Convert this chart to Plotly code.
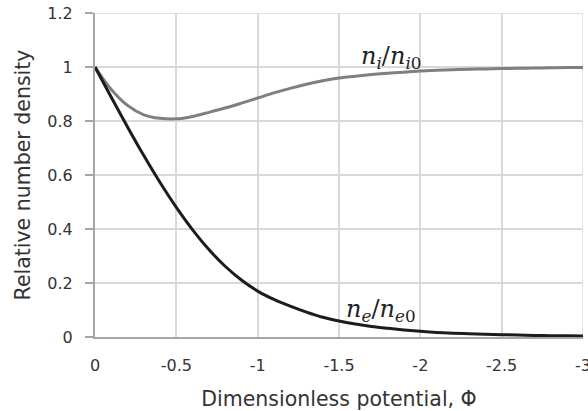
import plotly.graph_objects as go

# Dimensionless potential (x) and relative densities
phi = [0, -0.1, -0.2, -0.3, -0.4, -0.5, -0.6, -0.7, -0.8, -0.9, -1.0,
       -1.1, -1.2, -1.3, -1.4, -1.5, -1.6, -1.7, -1.8, -1.9, -2.0,
       -2.1, -2.2, -2.3, -2.4, -2.5, -2.6, -2.7, -2.8, -2.9, -3.0]
n_e = [1.0, 0.888, 0.778, 0.672, 0.572, 0.480, 0.397, 0.324, 0.262, 0.211, 0.170,
       0.139, 0.114, 0.092, 0.073, 0.059, 0.048, 0.039, 0.032, 0.026, 0.021,
       0.017, 0.014, 0.012, 0.010, 0.0085, 0.007, 0.006, 0.005, 0.0045, 0.004]
n_i = [1.0, 0.917, 0.858, 0.823, 0.810, 0.808, 0.817, 0.832, 0.848, 0.866, 0.885,
       0.904, 0.921, 0.936, 0.949, 0.959, 0.966, 0.972, 0.977, 0.981, 0.985,
       0.988, 0.990, 0.992, 0.993, 0.994, 0.995, 0.996, 0.997, 0.998, 0.998]

x_ticks = [0, -0.5, -1, -1.5, -2, -2.5, -3]
x_tick_text = ["0", "-0.5", "-1", "-1.5", "-2", "-2.5", "-3"]
y_ticks = [0, 0.2, 0.4, 0.6, 0.8, 1.0, 1.2]
y_tick_text = ["0", "0.2", "0.4", "0.6", "0.8", "1", "1.2"]

GRID = "#d9d9d9"

fig = go.Figure()
fig.add_trace(go.Scatter(x=phi, y=n_i, mode="lines",
                         line=dict(color="#7f7f7f", width=3, shape="spline", smoothing=1.0),
                         showlegend=False, hoverinfo="skip"))
fig.add_trace(go.Scatter(x=phi, y=n_e, mode="lines",
                         line=dict(color="#1c1c1c", width=3, shape="spline", smoothing=1.0),
                         showlegend=False, hoverinfo="skip"))

# gridlines at the far ends of the axes (plotly skips grid lines on the plot edges)
fig.add_shape(type="line", xref="paper", yref="y", x0=0, x1=1,
              y0=y_ticks[-1], y1=y_ticks[-1], line=dict(color=GRID, width=1.5), layer="below")
fig.add_shape(type="line", xref="x", yref="paper", x0=x_ticks[-1], x1=x_ticks[-1],
              y0=0, y1=1, line=dict(color=GRID, width=1.5), layer="below")

math_font = dict(family="DejaVu Serif", size=24, color="#222222")
fig.add_annotation(x=-1.82, y=1.035, xref="x", yref="y", showarrow=False,
                   text="<i>n</i><sub><i>i</i></sub>/<i>n</i><sub><i>i</i>0</sub>",
                   font=math_font, xanchor="center", yanchor="middle")
fig.add_annotation(x=-1.76, y=0.098, xref="x", yref="y", showarrow=False,
                   text="<i>n</i><sub><i>e</i></sub>/<i>n</i><sub><i>e</i>0</sub>",
                   font=math_font, xanchor="center", yanchor="middle")

tick_font = dict(family="DejaVu Sans", size=16, color="#333333")
title_font = dict(family="DejaVu Sans", size=20.5, color="#333333")

fig.update_layout(
    width=588, height=411,
    margin=dict(l=95, r=5, t=13, b=73.5),
    paper_bgcolor="white", plot_bgcolor="white",
    xaxis=dict(range=[0, -3], tickvals=x_ticks, ticktext=x_tick_text,
               showgrid=True, gridcolor=GRID, gridwidth=1.5,
               zeroline=False, showline=True, linecolor="#a6a6a6", linewidth=2,
               ticks="", automargin=False, ticklabeloverflow="allow",
               tickfont=tick_font, ticklabelstandoff=13,
               title=dict(text="Dimensionless potential, Φ", font=title_font, standoff=18)),
    yaxis=dict(range=[0, 1.2], tickvals=y_ticks, ticktext=y_tick_text,
               showgrid=True, gridcolor=GRID, gridwidth=1.5,
               zeroline=False, showline=True, linecolor="#a6a6a6", linewidth=2,
               ticks="outside", ticklen=8, tickcolor="#a6a6a6", tickwidth=1.5,
               automargin=False, ticklabeloverflow="allow",
               tickfont=tick_font, ticklabelstandoff=9,
               title=dict(text="Relative number density", font=title_font, standoff=11)),
)

# remove the browser's default 8px page margin so the figure fills the window exactly
fig.write_html("out.html", config={"displayModeBar": False},
               post_script="document.body.style.margin='0';")
